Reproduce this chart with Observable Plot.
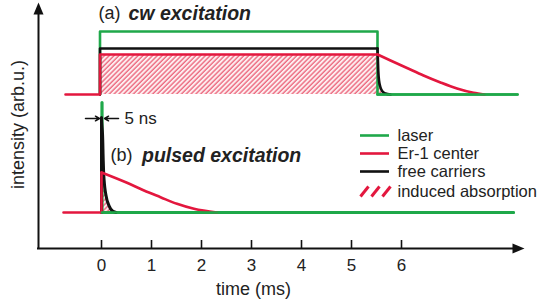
<!DOCTYPE html>
<html>
<head>
<meta charset="utf-8">
<script src="https://cdn.jsdelivr.net/npm/d3@7"></script>
<script src="https://cdn.jsdelivr.net/npm/@observablehq/plot@0.6"></script>
<style>
  html, body { margin: 0; padding: 0; background: #fff; }
  svg { display: block; }
</style>
</head>
<body>
<div id="chart"></div>
<script>
// ---- data (time in ms, intensity in arbitrary units) ----
const xTicks = [0, 1, 2, 3, 4, 5, 6];
const tickLabels = ["0", "1", "2", "3", "4", "5", "6"];

// (a) cw excitation
const cwLaserT = [-0.03, -0.03, 5.52, 5.52, 8.32];
const cwLaserI = [15.4, 21.7, 21.7, 15.4, 15.4];
const cwCarrStepT = [-0.03, -0.03, 5.52];
const cwCarrStepI = [15.4, 20.0, 20.0];
const cwCarrDecT = [5.52, 5.535, 5.55, 5.58, 5.62, 5.68, 5.78];
const cwCarrDecI = [20.0, 17.8, 16.8, 16.1, 15.7, 15.5, 15.4];
const cwErStepT = [-0.72, -0.03, -0.03, 5.52];
const cwErStepI = [15.4, 15.4, 19.4, 19.4];
const cwErDecT = [5.52, 5.78, 6.11, 6.44, 6.78, 7.11, 7.44, 7.66];
const cwErDecI = [19.4, 18.8, 18.05, 17.3, 16.6, 16.0, 15.57, 15.4];
const cwAbsT = [-0.03, 5.52, 5.535, 5.55, 5.58, 5.62, 5.68, 5.78];
const cwAbsI = [19.4, 19.4, 17.8, 16.8, 16.1, 15.7, 15.5, 15.4];
const cwBase = 15.4;

// (b) pulsed excitation
const puLaserT = [0.01, 0.01, 0.01, 8.24];
const puLaserI = [3.6, 14.6, 3.6, 3.6];
const puCarrT = [0.0, 0.0, 0.02, 0.035, 0.05, 0.08, 0.14, 0.22, 0.29];
const puCarrI = [3.6, 13.1, 11.5, 8.8, 7.0, 5.6, 4.4, 3.75, 3.6];
const puErStepT = [-0.76, 0.0, 0.0];
const puErStepI = [3.6, 3.6, 7.6];
const puErDecT = [0.0, 0.51, 0.85, 1.18, 1.51, 1.85, 2.31];
const puErDecI = [7.6, 6.57, 5.8, 5.13, 4.47, 3.97, 3.6];
const puAbsT = [0.02, 0.05, 0.08, 0.14, 0.22, 0.29];
const puAbsI = [7.3, 7.0, 5.6, 4.4, 3.75, 3.6];
const puBase = 3.6;

const legendLabels = ["laser", "Er-1 center", "free carriers", "induced absorption"];

// ---- build tables ----
const zip = (T, I) => T.map((t, i) => ({t, v: I[i]}));
const cwLaser = zip(cwLaserT, cwLaserI);
const cwCarrStep = zip(cwCarrStepT, cwCarrStepI);
const cwCarrDec = zip(cwCarrDecT, cwCarrDecI);
const cwErStep = zip(cwErStepT, cwErStepI);
const cwErDec = zip(cwErDecT, cwErDecI);
const cwAbs = zip(cwAbsT, cwAbsI);
const puLaser = zip(puLaserT, puLaserI);
const puCarr = zip(puCarrT, puCarrI);
const puErStep = zip(puErStepT, puErStepI);
const puErDec = zip(puErDecT, puErDecI);
const puAbs = zip(puAbsT, puAbsI);

const GREEN = "#1fa84a", RED = "#e3173e", BLACK = "#111", TXT = "#222";
const SW = 2.6;

const arrowHead = {
  draw(ctx) { ctx.moveTo(0, -8); ctx.lineTo(5, 4); ctx.lineTo(-5, 4); ctx.closePath(); }
};

const defs = () => {
  const ns = "http://www.w3.org/2000/svg";
  const d = document.createElementNS(ns, "defs");
  const p = document.createElementNS(ns, "pattern");
  p.setAttribute("id", "hatch");
  p.setAttribute("patternUnits", "userSpaceOnUse");
  p.setAttribute("width", "3.4");
  p.setAttribute("height", "10");
  p.setAttribute("patternTransform", "rotate(45)");
  const r = document.createElementNS(ns, "rect");
  r.setAttribute("width", "3.4"); r.setAttribute("height", "10"); r.setAttribute("fill", "#fdeef0");
  const l = document.createElementNS(ns, "line");
  l.setAttribute("x1", "1"); l.setAttribute("x2", "1"); l.setAttribute("y1", "0"); l.setAttribute("y2", "10");
  l.setAttribute("stroke", "#ec6a80"); l.setAttribute("stroke-width", "1.4");
  p.appendChild(r); p.appendChild(l); d.appendChild(p);
  return d;
};

const legendY = [11.3, 9.5, 7.7, 5.7];
const legendColors = [GREEN, RED, BLACK];

const chart = Plot.plot({
  width: 556,
  height: 301,
  margin: 0,
  x: {domain: [0, 6], range: [101, 401], axis: null},
  y: {domain: [0, 10], range: [248, 148], axis: null},
  style: {fontFamily: "'Liberation Sans', Arial, sans-serif", background: "#fff"},
  marks: [
    defs,
    // axes
    Plot.ruleY([0], {x1: -1.28, x2: 8.35, stroke: BLACK, strokeWidth: 2}),
    Plot.ruleX([-1.26], {y1: 0, y2: 23.8, stroke: BLACK, strokeWidth: 2}),
    Plot.dot([{t: 8.30, v: 0}], {x: "t", y: "v", symbol: arrowHead, fill: BLACK, stroke: null, rotate: 90}),
    Plot.dot([{t: -1.26, v: 23.8}], {x: "t", y: "v", symbol: arrowHead, fill: BLACK, stroke: null}),
    Plot.ruleX(xTicks, {x: d => d, y1: 0, y2: 0.8, stroke: BLACK, strokeWidth: 1.6}),
    Plot.text(xTicks, {x: d => d, y: -1.7, text: (d, i) => tickLabels[i], fontSize: 17, fill: TXT}),
    Plot.text(["time (ms)"], {x: 3.04, y: -4.1, text: d => d, fontSize: 18, fill: TXT}),
    Plot.text(["intensity (arb.u.)"], {x: -1.66, y: 12.4, text: d => d, fontSize: 18, fill: TXT, rotate: -90}),

    // (a) cw excitation
    Plot.areaY(cwAbs, {x: "t", y1: cwBase, y2: "v", fill: "url(#hatch)", curve: "monotone-x"}),
    Plot.line(cwLaser, {x: "t", y: "v", stroke: GREEN, strokeWidth: SW}),
    Plot.line(cwCarrStep, {x: "t", y: "v", stroke: BLACK, strokeWidth: SW}),
    Plot.line(cwCarrDec, {x: "t", y: "v", stroke: BLACK, strokeWidth: SW, curve: "monotone-x"}),
    Plot.line(cwErStep, {x: "t", y: "v", stroke: RED, strokeWidth: SW}),
    Plot.line(cwErDec, {x: "t", y: "v", stroke: RED, strokeWidth: SW, curve: "monotone-x"}),
    Plot.line(cwLaser.slice(3), {x: "t", y: "v", stroke: GREEN, strokeWidth: SW}),
    Plot.text(["(a)"], {x: -0.06, y: 23.5, text: d => d, textAnchor: "start", fontSize: 18, fill: TXT}),
    Plot.text(["cw excitation"], {x: 0.54, y: 23.5, text: d => d, textAnchor: "start", fontSize: 19.5, fontWeight: "bold", fontStyle: "italic", fill: TXT}),

    // (b) pulsed excitation
    Plot.areaY(puAbs, {x: "t", y1: puBase, y2: "v", fill: "url(#hatch)", curve: "monotone-x"}),
    Plot.line(puLaser, {x: "t", y: "v", stroke: GREEN, strokeWidth: 3.2}),
    Plot.line(puCarr, {x: "t", y: "v", stroke: BLACK, strokeWidth: 3, curve: "monotone-y"}),
    Plot.line(puErStep, {x: "t", y: "v", stroke: RED, strokeWidth: SW}),
    Plot.line(puErDec, {x: "t", y: "v", stroke: RED, strokeWidth: SW, curve: "monotone-x"}),
    Plot.line(puLaser.slice(2), {x: "t", y: "v", stroke: GREEN, strokeWidth: SW}),
    Plot.arrow([0], {x1: -0.32, x2: -0.04, y1: 13.0, y2: 13.0, stroke: BLACK, strokeWidth: 1.5, headLength: 7, bend: 0}),
    Plot.arrow([0], {x1: 0.34, x2: 0.06, y1: 13.0, y2: 13.0, stroke: BLACK, strokeWidth: 1.5, headLength: 7, bend: 0}),
    Plot.text(["5 ns"], {x: 0.46, y: 13.0, text: d => d, textAnchor: "start", fontSize: 17, fill: TXT}),
    Plot.text(["(b)"], {x: 0.18, y: 9.3, text: d => d, textAnchor: "start", fontSize: 18, fill: TXT}),
    Plot.text(["pulsed excitation"], {x: 0.81, y: 9.3, text: d => d, textAnchor: "start", fontSize: 19.5, fontWeight: "bold", fontStyle: "italic", fill: TXT}),

    // legend
    Plot.ruleY(legendColors, {y: (d, i) => legendY[i], x1: 5.18, x2: 5.76, stroke: d => d, strokeWidth: SW}),
    Plot.link([5.18, 5.40, 5.62], {x1: d => d, x2: d => d + 0.16, y1: 5.2, y2: 6.2, stroke: RED, strokeWidth: 3}),
    Plot.text(legendLabels, {x: 5.92, y: (d, i) => legendY[i], text: d => d, textAnchor: "start", fontSize: 16.5, fill: TXT})
  ]
});
document.getElementById("chart").appendChild(chart);
</script>
</body>
</html>
